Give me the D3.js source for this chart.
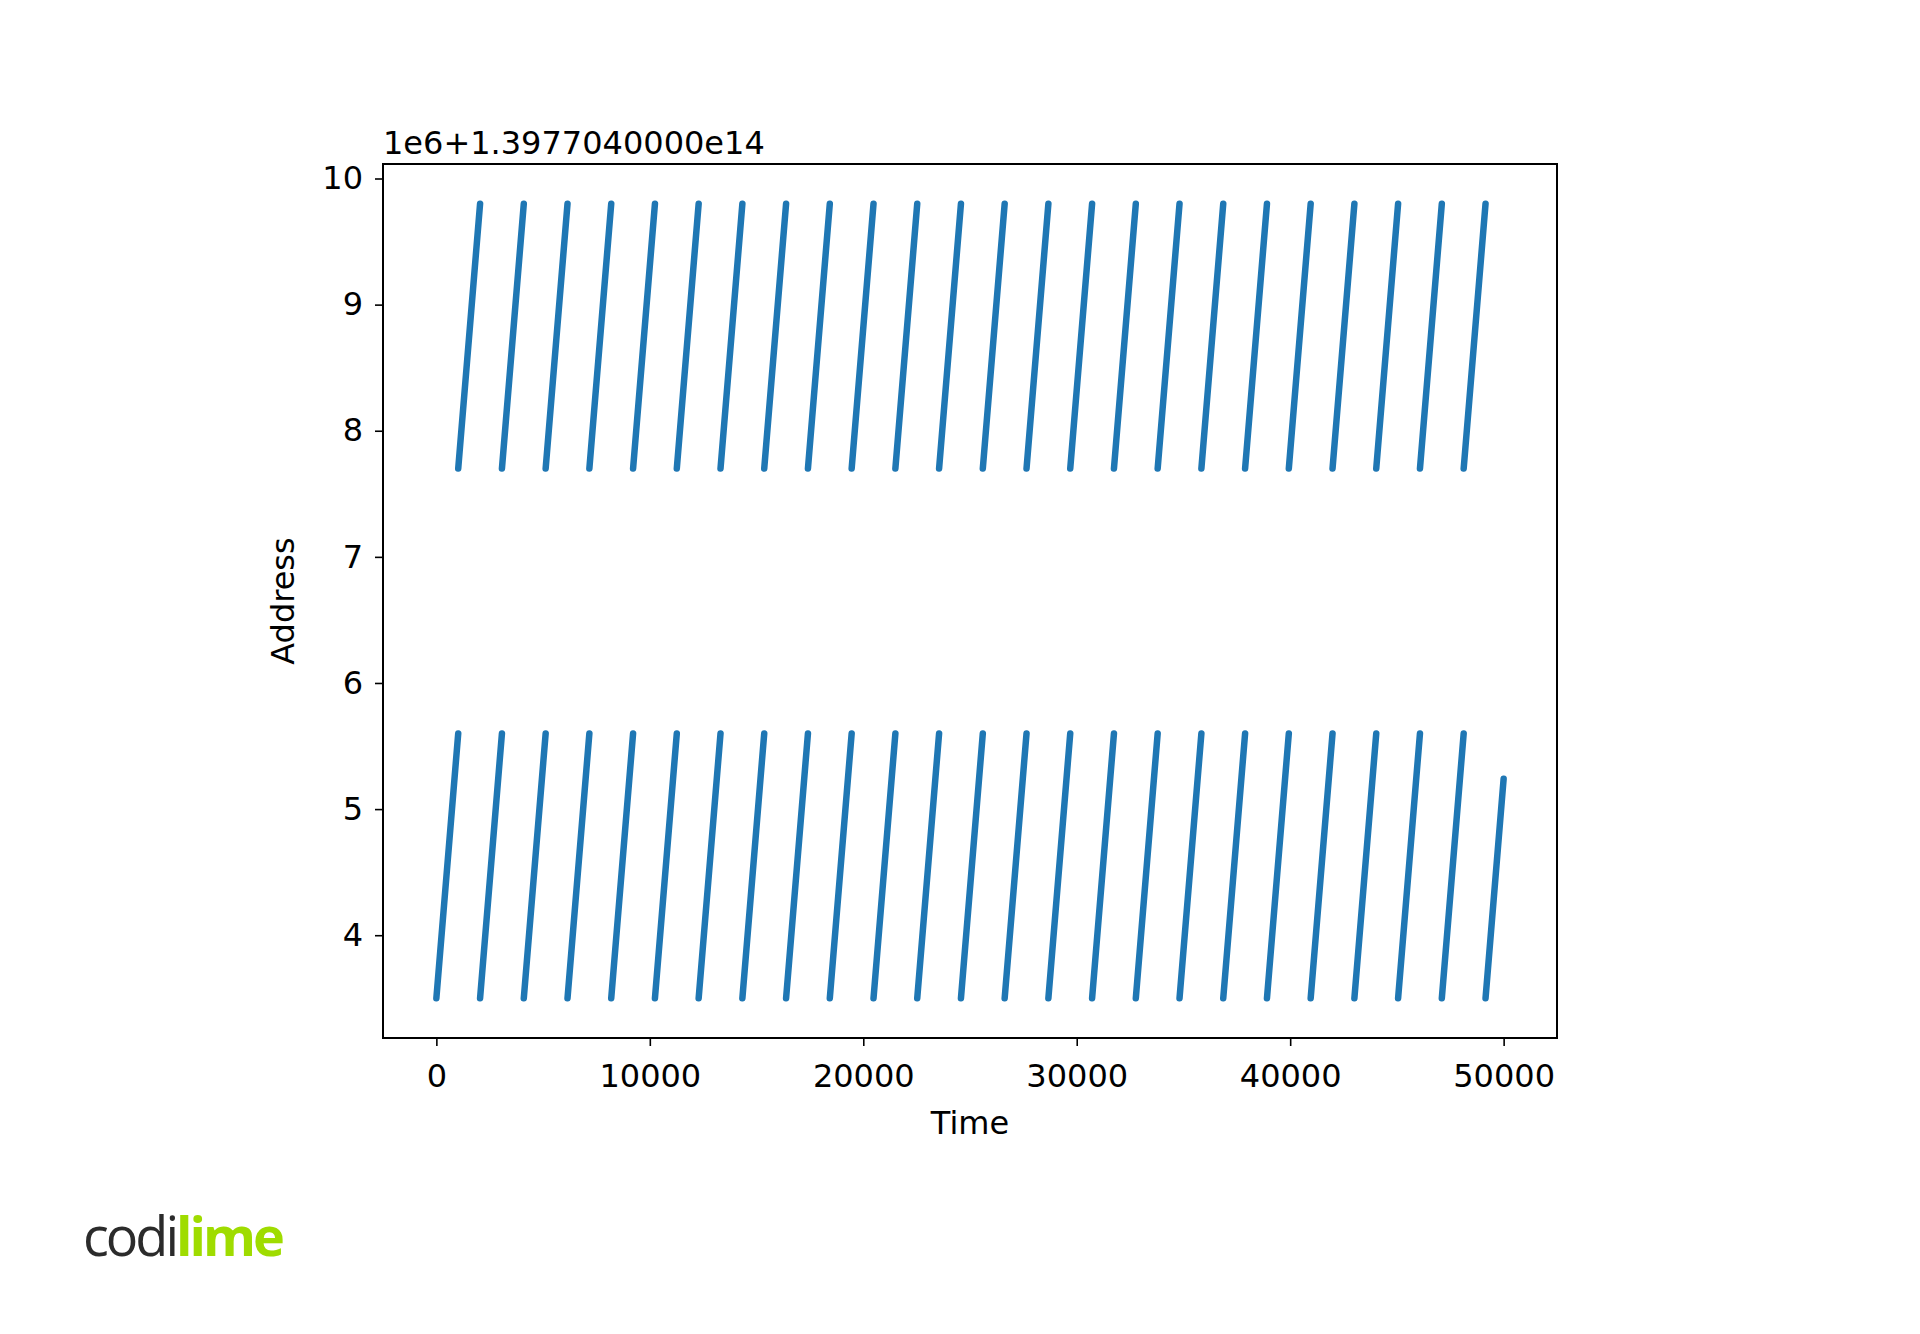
<!DOCTYPE html>
<html>
<head>
<meta charset="utf-8">
<script src="https://cdn.jsdelivr.net/npm/d3@7"></script>
<style>
  body { margin: 0; background: #fff; }
  text { font-family: "DejaVu Sans", sans-serif; fill: #000; }
</style>
</head>
<body>
<svg id="chart" width="1920" height="1334"></svg>
<script>
// Ramp start times (each ramp spans 1024 time units)
var lowStarts = [0, 2048, 4096, 6144, 8192, 10240, 12288, 14336, 16384, 18432, 20480, 22528,
  24576, 26624, 28672, 30720, 32768, 34816, 36864, 38912, 40960, 43008, 45056, 47104, 49152];
var lowEnds = [1024, 3072, 5120, 7168, 9216, 11264, 13312, 15360, 17408, 19456, 21504, 23552,
  25600, 27648, 29696, 31744, 33792, 35840, 37888, 39936, 41984, 44032, 46080, 48128, 50000];
var lowTopY = [5.6, 5.6, 5.6, 5.6, 5.6, 5.6, 5.6, 5.6, 5.6, 5.6, 5.6, 5.6,
  5.6, 5.6, 5.6, 5.6, 5.6, 5.6, 5.6, 5.6, 5.6, 5.6, 5.6, 5.6, 5.24];
var highStarts = [1024, 3072, 5120, 7168, 9216, 11264, 13312, 15360, 17408, 19456, 21504, 23552,
  25600, 27648, 29696, 31744, 33792, 35840, 37888, 39936, 41984, 44032, 46080, 48128];
var highEnds = [2048, 4096, 6144, 8192, 10240, 12288, 14336, 16384, 18432, 20480, 22528, 24576,
  26624, 28672, 30720, 32768, 34816, 36864, 38912, 40960, 43008, 45056, 47104, 49152];
var lowBase = 3.5, highBase = 7.7, highTop = 9.8;
var xTicks = [0, 10000, 20000, 30000, 40000, 50000];
var yTicks = [4, 5, 6, 7, 8, 9, 10];

var svg = d3.select("#chart");
var pLeft = 383, pRight = 1557, pTop = 164, pBottom = 1038;

var x = d3.scaleLinear().domain([-2500, 52500]).range([pLeft, pRight]);
var y = d3.scaleLinear().domain([3.185, 10.115]).range([pBottom, pTop]);

// Build segment list from the arrays
var segs = [];
lowStarts.forEach(function (s, i) {
  segs.push({ x1: s, y1: lowBase, x2: lowEnds[i], y2: lowTopY[i] });
});
highStarts.forEach(function (s, i) {
  segs.push({ x1: s, y1: highBase, x2: highEnds[i], y2: highTop });
});

svg.append("g").selectAll("line").data(segs).enter().append("line")
  .attr("x1", d => x(d.x1)).attr("y1", d => y(d.y1))
  .attr("x2", d => x(d.x2)).attr("y2", d => y(d.y2))
  .attr("stroke", "#1f77b4").attr("stroke-width", 6.5).attr("stroke-linecap", "round");

var xAxis = svg.append("g").attr("transform", "translate(0," + pBottom + ")")
  .call(d3.axisBottom(x).tickValues(xTicks).tickFormat(d3.format("d")).tickSize(8).tickPadding(15));
var yAxis = svg.append("g").attr("transform", "translate(" + pLeft + ",0)")
  .call(d3.axisLeft(y).tickValues(yTicks).tickFormat(d3.format("d")).tickSize(8).tickPadding(12));
[xAxis, yAxis].forEach(function (a) {
  a.select(".domain").remove();
  a.selectAll("line").attr("stroke", "#000").attr("stroke-width", 1.6);
  a.selectAll("text").style("font-size", "32px");
});
xAxis.selectAll("text").attr("dy", "0.8em");

svg.append("rect").attr("x", pLeft).attr("y", pTop)
  .attr("width", pRight - pLeft).attr("height", pBottom - pTop)
  .attr("fill", "none").attr("stroke", "#000").attr("stroke-width", 2);

svg.append("text").attr("x", pLeft).attr("y", 154).style("font-size", "32px")
  .text("1e6+1.3977040000e14");
svg.append("text").attr("x", (pLeft + pRight) / 2).attr("y", 1134)
  .attr("text-anchor", "middle").style("font-size", "32px").text("Time");
svg.append("text").attr("transform", "translate(294," + (pTop + pBottom) / 2 + ") rotate(-90)")
  .attr("text-anchor", "middle").style("font-size", "32px").text("Address");

// logo
var logo = svg.append("text").attr("x", 83).attr("y", 1256)
  .style("font-family", "'Open Sans', sans-serif").style("font-size", "54px")
  .style("letter-spacing", "-3px");
logo.append("tspan").style("fill", "#2b2b2b").style("font-weight", 400).text("codi");
logo.append("tspan").style("fill", "#9fdc00").style("font-weight", 700).text("lime");
</script>
</body>
</html>
